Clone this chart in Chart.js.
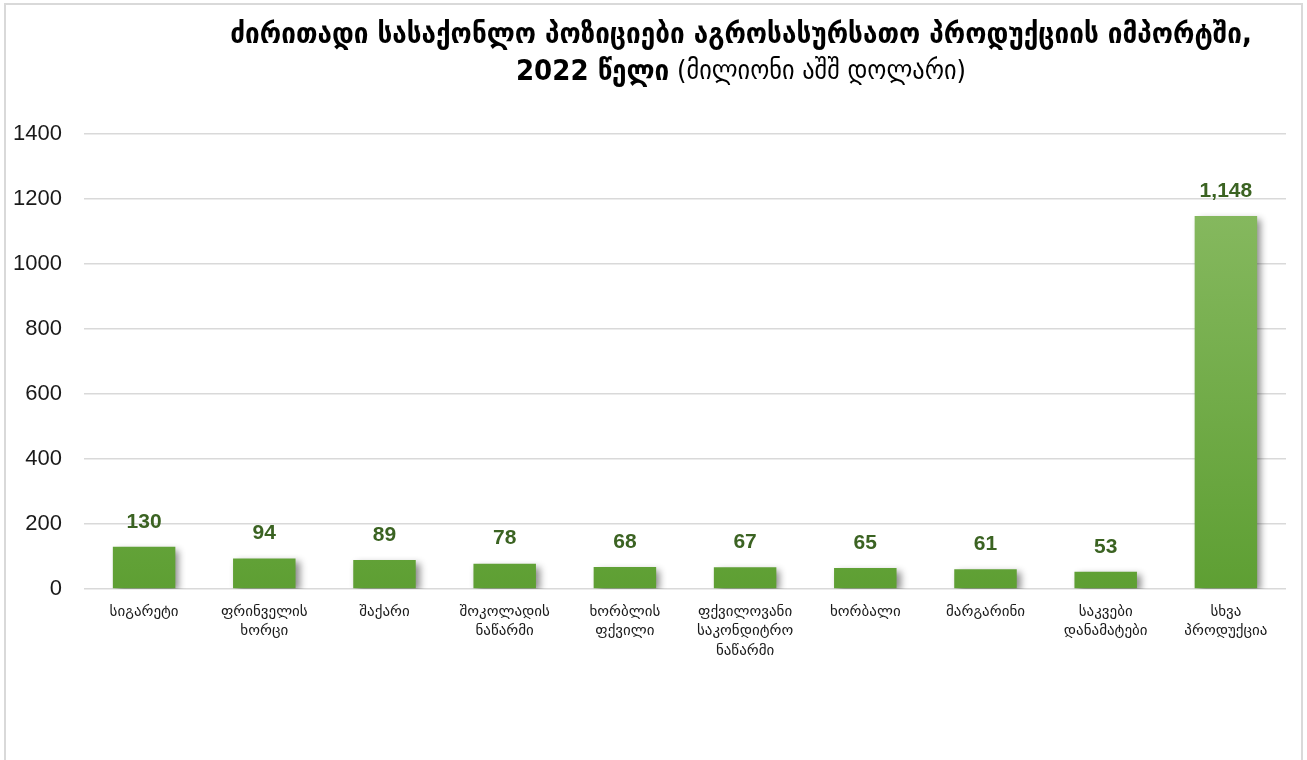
<!DOCTYPE html>
<html>
<head>
<meta charset="utf-8">
<script src="https://cdn.jsdelivr.net/npm/chart.js@4.4.1/dist/chart.umd.min.js"></script>
<style>
  html, body { margin: 0; padding: 0; background: #fff; }
  #wrap { width: 1307px; height: 760px; }
</style>
</head>
<body>
<div id="wrap"><canvas id="chart" width="1307" height="760"></canvas></div>
<script>
const categories = [
  "სიგარეტი",
  ["ფრინველის", "ხორცი"],
  "შაქარი",
  ["შოკოლადის", "ნაწარმი"],
  ["ხორბლის", "ფქვილი"],
  ["ფქვილოვანი", "საკონდიტრო", "ნაწარმი"],
  "ხორბალი",
  "მარგარინი",
  ["საკვები", "დანამატები"],
  ["სხვა", "პროდუქცია"],
];
const values = [130, 94, 89, 78, 68, 67, 65, 61, 53, 1148];
const yTicks = [0, 200, 400, 600, 800, 1000, 1200, 1400];

const titleLine1 = "ძირითადი სასაქონლო პოზიციები აგროსასურსათო პროდუქციის იმპორტში,";
const titleLine2Bold = "2022 წელი";
const titleLine2Rest = " (მილიონი აშშ დოლარი)";

const geoFont = '"DejaVu Sans Condensed", "DejaVu Sans", sans-serif';
const geoFontWide = '"DejaVu Sans", sans-serif';

// frame + title
const frameTitle = {
  id: "frameTitle",
  beforeDraw(chart) {
    const c = chart.ctx;
    c.save();
    c.fillStyle = "#fff";
    c.fillRect(0, 0, chart.width, chart.height);
    c.strokeStyle = "#d9d9d9";
    c.lineWidth = 2;
    c.strokeRect(5, 4, 1297, 800);
    c.restore();
  },
  afterDraw(chart) {
    const c = chart.ctx;
    const cx = 741;
    c.save();
    c.fillStyle = "#000";
    c.textBaseline = "middle";
    c.textAlign = "center";
    c.font = "bold 29px " + geoFont;
    c.fillText(titleLine1, cx, 35);

    c.textAlign = "left";
    c.font = "bold 29px " + geoFont;
    const w1 = c.measureText(titleLine2Bold).width;
    c.font = "27px " + geoFont;
    const w2 = c.measureText(titleLine2Rest).width;
    let x = cx - (w1 + w2) / 2;
    c.font = "bold 29px " + geoFont;
    c.fillText(titleLine2Bold, x, 72);
    c.font = "27px " + geoFont;
    c.fillText(titleLine2Rest, x + w1, 72);
    c.restore();
  },
};

// per-bar gradient and drop shadow
const barLook = {
  id: "barLook",
  beforeDatasetDraw(chart) {
    const c = chart.ctx;
    chart.getDatasetMeta(0).data.forEach((bar) => {
      const g = c.createLinearGradient(0, bar.y, 0, bar.base);
      g.addColorStop(0, "#85b85e");
      g.addColorStop(1, "#5e9f33");
      bar.options.backgroundColor = g;
    });
    c.save();
    c.shadowColor = "rgba(0,0,0,0.45)";
    c.shadowBlur = 7;
    c.shadowOffsetX = 4;
    c.shadowOffsetY = 3;
  },
  afterDatasetDraw(chart) {
    chart.ctx.restore();
  },
};

// value labels above bars
const valueLabels = {
  id: "valueLabels",
  afterDatasetsDraw(chart) {
    const c = chart.ctx;
    c.save();
    c.font = 'bold 21px "Liberation Sans", Arial, sans-serif';
    c.fillStyle = "#3b6322";
    c.textAlign = "center";
    c.textBaseline = "middle";
    chart.getDatasetMeta(0).data.forEach((bar, i) => {
      c.fillText(values[i].toLocaleString("en-US"), bar.x, bar.y - 25);
    });
    c.restore();
  },
};

new Chart(document.getElementById("chart"), {
  type: "bar",
  data: {
    labels: categories,
    datasets: [
      {
        data: values,
        backgroundColor: "#6eab45",
        categoryPercentage: 1,
        barPercentage: 0.52,
      },
    ],
  },
  options: {
    responsive: false,
    animation: false,
    devicePixelRatio: 1,
    layout: { padding: { top: 134, left: 5, right: 21, bottom: 71 } },
    plugins: {
      legend: { display: false },
      title: { display: false },
      tooltip: { enabled: false },
    },
    scales: {
      x: {
        grid: { display: false },
        border: { display: false },
        ticks: {
          color: "#1a1a1a",
          font: { family: geoFontWide, size: 15, lineHeight: 1.3 },
          padding: 5,
          maxRotation: 0,
          autoSkip: false,
        },
        afterFit(s) { s.height = 100; },
      },
      y: {
        min: 0,
        max: 1400,
        afterBuildTicks(s) { s.ticks = yTicks.map((v) => ({ value: v })); },
        grid: { color: "#d9d9d9", lineWidth: 1.5, drawTicks: false },
        border: { display: false },
        ticks: {
          color: "#1a1a1a",
          font: { family: '"Liberation Sans", Arial, sans-serif', size: 22 },
          padding: 22,
          callback: (v) => String(v),
        },
        afterFit(s) { s.width = 79; },
      },
    },
  },
  plugins: [frameTitle, barLook, valueLabels],
});
</script>
</body>
</html>
